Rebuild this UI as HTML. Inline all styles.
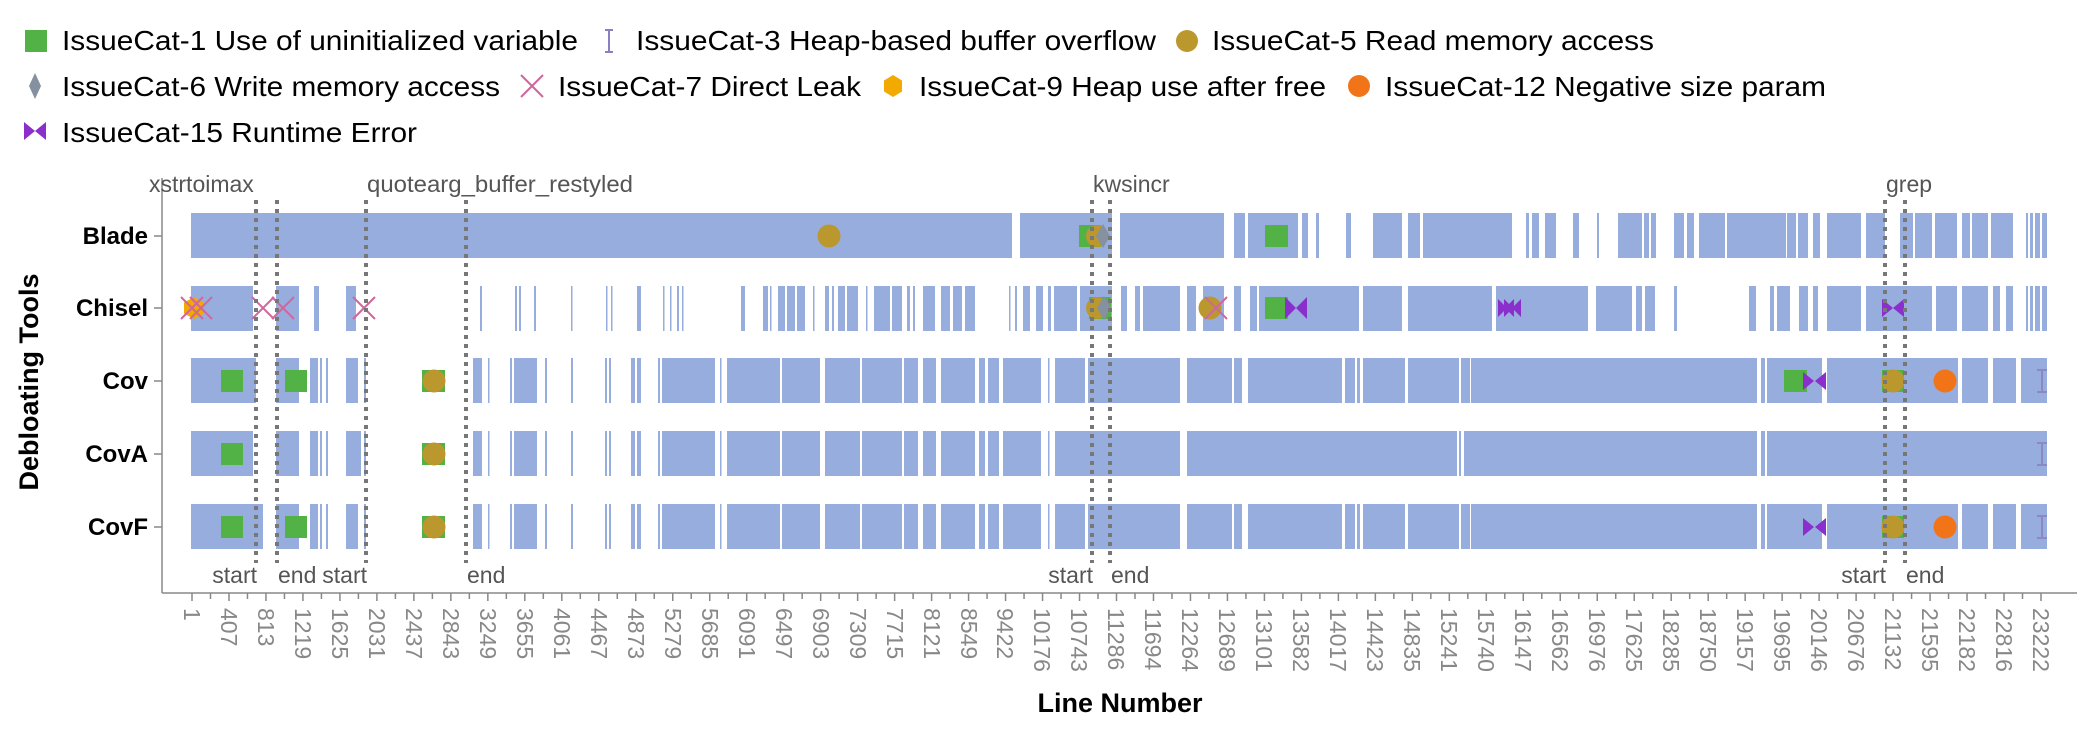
<!DOCTYPE html>
<html><head><meta charset="utf-8"><style>
html,body{margin:0;padding:0;background:#fff;}
svg{display:block;font-family:"Liberation Sans",Arial,sans-serif;}
</style></head><body>
<svg width="2100" height="750" viewBox="0 0 2100 750" xmlns="http://www.w3.org/2000/svg">
<!-- Legend -->
<g font-size="28" fill="#000">
<rect x="25" y="30" width="22" height="22" fill="#52b246"/>
<text x="62" y="50" textLength="516" lengthAdjust="spacingAndGlyphs">IssueCat-1 Use of uninitialized variable</text>
<g stroke="#8a7fc3" stroke-width="2"><line x1="609" y1="30" x2="609" y2="52"/><line x1="605" y1="30" x2="613" y2="30"/><line x1="605" y1="52" x2="613" y2="52"/></g>
<text x="636" y="50" textLength="520" lengthAdjust="spacingAndGlyphs">IssueCat-3 Heap-based buffer overflow</text>
<circle cx="1187" cy="41" r="11" fill="#bb982d"/>
<text x="1212" y="50" textLength="442" lengthAdjust="spacingAndGlyphs">IssueCat-5 Read memory access</text>

<polygon points="35,73 41,86 35,99 29,86" fill="#8590a0"/>
<text x="62" y="96" textLength="438" lengthAdjust="spacingAndGlyphs">IssueCat-6 Write memory access</text>
<g stroke="#d0679c" stroke-width="2"><line x1="521" y1="75" x2="543" y2="97"/><line x1="543" y1="75" x2="521" y2="97"/></g>
<text x="558" y="96" textLength="303" lengthAdjust="spacingAndGlyphs">IssueCat-7 Direct Leak</text>
<polygon points="893,75 902,80.5 902,91.5 893,97 884,91.5 884,80.5" fill="#f2a900"/>
<text x="919" y="96" textLength="407" lengthAdjust="spacingAndGlyphs">IssueCat-9 Heap use after free</text>
<circle cx="1359" cy="86" r="11" fill="#f17518"/>
<text x="1385" y="96" textLength="441" lengthAdjust="spacingAndGlyphs">IssueCat-12 Negative size param</text>

<polygon points="24,122 24,140 35,131" fill="#8a2fcb"/><polygon points="46,122 46,140 35,131" fill="#8a2fcb"/>
<text x="62" y="142" textLength="355" lengthAdjust="spacingAndGlyphs">IssueCat-15 Runtime Error</text>
</g>

<!-- Bars -->
<g fill="#97addd">
<path id="blade" d=""/>
<path id="chisel" d=""/>
<path id="cov" d=""/>
<path id="cova" d=""/>
<path id="covf" d=""/>
</g>
<g id="bars" fill="#97addd"></g>

<!-- Axes -->
<g stroke="#888" stroke-width="1.5" fill="none">
<line x1="162" y1="178" x2="162" y2="593"/>
<line x1="162" y1="593" x2="2077" y2="593"/>
<line x1="154" y1="236" x2="162" y2="236"/>
<line x1="154" y1="308" x2="162" y2="308"/>
<line x1="154" y1="381" x2="162" y2="381"/>
<line x1="154" y1="454" x2="162" y2="454"/>
<line x1="154" y1="527" x2="162" y2="527"/>
</g>
<g id="ticks" stroke="#888" stroke-width="1.5"></g>
<g font-size="24" font-weight="bold" fill="#000" text-anchor="end">
<text x="148" y="244">Blade</text>
<text x="148" y="316">Chisel</text>
<text x="148" y="389">Cov</text>
<text x="148" y="462">CovA</text>
<text x="148" y="535">CovF</text>
</g>
<text x="1120" y="712" font-size="27" font-weight="bold" text-anchor="middle">Line Number</text>
<text transform="translate(38,382) rotate(-90)" font-size="27" font-weight="bold" text-anchor="middle">Debloating Tools</text>

<g font-size="23" fill="#888" id="xlabels">
<text transform="translate(192,608) rotate(90)" dy="0.35em">1</text>
<text transform="translate(229,608) rotate(90)" dy="0.35em">407</text>
<text transform="translate(266,608) rotate(90)" dy="0.35em">813</text>
<text transform="translate(303,608) rotate(90)" dy="0.35em">1219</text>
<text transform="translate(340,608) rotate(90)" dy="0.35em">1625</text>
<text transform="translate(377,608) rotate(90)" dy="0.35em">2031</text>
<text transform="translate(414,608) rotate(90)" dy="0.35em">2437</text>
<text transform="translate(451,608) rotate(90)" dy="0.35em">2843</text>
<text transform="translate(488,608) rotate(90)" dy="0.35em">3249</text>
<text transform="translate(525,608) rotate(90)" dy="0.35em">3655</text>
<text transform="translate(562,608) rotate(90)" dy="0.35em">4061</text>
<text transform="translate(599,608) rotate(90)" dy="0.35em">4467</text>
<text transform="translate(636,608) rotate(90)" dy="0.35em">4873</text>
<text transform="translate(673,608) rotate(90)" dy="0.35em">5279</text>
<text transform="translate(710,608) rotate(90)" dy="0.35em">5685</text>
<text transform="translate(747,608) rotate(90)" dy="0.35em">6091</text>
<text transform="translate(784,608) rotate(90)" dy="0.35em">6497</text>
<text transform="translate(821,608) rotate(90)" dy="0.35em">6903</text>
<text transform="translate(858,608) rotate(90)" dy="0.35em">7309</text>
<text transform="translate(895,608) rotate(90)" dy="0.35em">7715</text>
<text transform="translate(932,608) rotate(90)" dy="0.35em">8121</text>
<text transform="translate(969,608) rotate(90)" dy="0.35em">8549</text>
<text transform="translate(1005,608) rotate(90)" dy="0.35em">9422</text>
<text transform="translate(1042,608) rotate(90)" dy="0.35em">10176</text>
<text transform="translate(1079,608) rotate(90)" dy="0.35em">10743</text>
<text transform="translate(1116,608) rotate(90)" dy="0.35em">11286</text>
<text transform="translate(1153,608) rotate(90)" dy="0.35em">11694</text>
<text transform="translate(1190,608) rotate(90)" dy="0.35em">12264</text>
<text transform="translate(1227,608) rotate(90)" dy="0.35em">12689</text>
<text transform="translate(1264,608) rotate(90)" dy="0.35em">13101</text>
<text transform="translate(1301,608) rotate(90)" dy="0.35em">13582</text>
<text transform="translate(1338,608) rotate(90)" dy="0.35em">14017</text>
<text transform="translate(1375,608) rotate(90)" dy="0.35em">14423</text>
<text transform="translate(1412,608) rotate(90)" dy="0.35em">14835</text>
<text transform="translate(1449,608) rotate(90)" dy="0.35em">15241</text>
<text transform="translate(1486,608) rotate(90)" dy="0.35em">15740</text>
<text transform="translate(1523,608) rotate(90)" dy="0.35em">16147</text>
<text transform="translate(1560,608) rotate(90)" dy="0.35em">16562</text>
<text transform="translate(1597,608) rotate(90)" dy="0.35em">16976</text>
<text transform="translate(1634,608) rotate(90)" dy="0.35em">17625</text>
<text transform="translate(1671,608) rotate(90)" dy="0.35em">18285</text>
<text transform="translate(1708,608) rotate(90)" dy="0.35em">18750</text>
<text transform="translate(1745,608) rotate(90)" dy="0.35em">19157</text>
<text transform="translate(1782,608) rotate(90)" dy="0.35em">19695</text>
<text transform="translate(1819,608) rotate(90)" dy="0.35em">20146</text>
<text transform="translate(1856,608) rotate(90)" dy="0.35em">20676</text>
<text transform="translate(1893,608) rotate(90)" dy="0.35em">21132</text>
<text transform="translate(1930,608) rotate(90)" dy="0.35em">21595</text>
<text transform="translate(1967,608) rotate(90)" dy="0.35em">22182</text>
<text transform="translate(2004,608) rotate(90)" dy="0.35em">22816</text>
<text transform="translate(2041,608) rotate(90)" dy="0.35em">23222</text>
</g>

<!-- Markers -->
<g id="markers">
<!-- green squares -->
<g fill="#52b246">
<rect x="1079" y="225" width="22" height="22"/>
<rect x="1265" y="225" width="23" height="22"/>
<rect x="1089" y="297" width="22" height="22"/>
<rect x="1265" y="297" width="23" height="22"/>
<rect x="221" y="370" width="22" height="22"/>
<rect x="285" y="370" width="22" height="22"/>
<rect x="422" y="370" width="23" height="22"/>
<rect x="1784" y="370" width="23" height="22"/>
<rect x="1882" y="370" width="22" height="22"/>
<rect x="221" y="443" width="22" height="22"/>
<rect x="422" y="443" width="23" height="22"/>
<rect x="221" y="516" width="22" height="22"/>
<rect x="285" y="516" width="22" height="22"/>
<rect x="422" y="516" width="23" height="22"/>
<rect x="1882" y="516" width="22" height="22"/>
</g>
<g fill="#bb982d">
<circle cx="829" cy="236" r="11.5"/>
<circle cx="1097" cy="236" r="11"/>
<circle cx="1097" cy="308" r="11"/>
<circle cx="1210" cy="308" r="11.5"/>
<circle cx="434" cy="381" r="11.5"/>
<circle cx="1893" cy="381" r="11.5"/>
<circle cx="434" cy="454" r="11.5"/>
<circle cx="434" cy="527" r="11.5"/>
<circle cx="1893" cy="527" r="11.5"/>
</g>
<g fill="#f17518">
<circle cx="1945" cy="381" r="11.5"/>
<circle cx="1945" cy="527" r="11.5"/>
</g>
<g fill="#8590a0">
<polygon points="1103,224 1110,236 1103,248 1096,236"/>
<polygon points="1104,296 1111,308 1104,320 1097,308"/>
</g>
<polygon points="194,297 204,302.5 204,313.5 194,319 184,313.5 184,302.5" fill="#f2a900"/>
<g stroke="#d0679c" stroke-width="2" fill="none">
<path d="M181,297 L203,319 M203,297 L181,319"/>
<path d="M190,297 L212,319 M212,297 L190,319"/>
<path d="M252,297 L274,319 M274,297 L252,319"/>
<path d="M272,297 L294,319 M294,297 L272,319"/>
<path d="M353,297 L375,319 M375,297 L353,319"/>
<path d="M1205,297 L1227,319 M1227,297 L1205,319"/>
</g>
<g fill="#8a2fcb">
<path d="M1285,297 L1296,308 L1285,319Z M1307,297 L1296,308 L1307,319Z"/>
<path d="M1498,299 L1507,308 L1498,317Z M1514,299 L1505,308 L1514,317Z"/>
<path d="M1504,299 L1513,308 L1504,317Z M1521,299 L1512,308 L1521,317Z"/>
<path d="M1882,299 L1893,308 L1882,317Z M1904,299 L1893,308 L1904,317Z"/>
<path d="M1803,372 L1814,381 L1803,390Z M1826,372 L1815,381 L1826,390Z"/>
<path d="M1803,518 L1814,527 L1803,536Z M1826,518 L1815,527 L1826,536Z"/>
</g>
<g stroke="#8a7fc3" stroke-width="2" opacity="0.8">
<path d="M2042,370 V392 M2037,370 H2047 M2037,392 H2047"/>
<path d="M2042,443 V465 M2037,443 H2047 M2037,465 H2047"/>
<path d="M2042,516 V538 M2037,516 H2047 M2037,538 H2047"/>
</g>
</g>

<!-- Dotted lines -->
<g stroke="#777" stroke-width="4" stroke-dasharray="4 5">
<line x1="256" y1="200" x2="256" y2="563"/>
<line x1="277" y1="200" x2="277" y2="563"/>
<line x1="366" y1="200" x2="366" y2="563"/>
<line x1="466" y1="200" x2="466" y2="563"/>
<line x1="1092" y1="200" x2="1092" y2="563"/>
<line x1="1110" y1="200" x2="1110" y2="563"/>
<line x1="1885" y1="200" x2="1885" y2="563"/>
<line x1="1905" y1="200" x2="1905" y2="563"/>
</g>
<g font-size="23" fill="#555">
<text x="149" y="192">xstrtoimax</text>
<text x="367" y="192" textLength="266" lengthAdjust="spacingAndGlyphs">quotearg_buffer_restyled</text>
<text x="1093" y="192">kwsincr</text>
<text x="1886" y="192">grep</text>
<text x="257" y="583" text-anchor="end">start</text>
<text x="278" y="583">end</text>
<text x="367" y="583" text-anchor="end">start</text>
<text x="467" y="583">end</text>
<text x="1093" y="583" text-anchor="end">start</text>
<text x="1111" y="583">end</text>
<text x="1886" y="583" text-anchor="end">start</text>
<text x="1906" y="583">end</text>
</g>
</svg>
<script>
(function(){
var rows={
blade:[213,[[191,1012],[1020,1112],[1120,1224],[1234,1245],[1248,1298],[1302,1308],[1316,1319],[1346,1351],[1373,1402],[1408,1420],[1423,1512],[1526,1529],[1532,1539],[1545,1556],[1573,1579],[1597,1599],[1618,1642],[1644,1649],[1651,1656],[1674,1684],[1687,1694],[1699,1725],[1727,1786],[1787,1796],[1798,1808],[1813,1820],[1827,1861],[1866,1885],[1900,1913],[1915,1932],[1935,1957],[1962,1970],[1972,1988],[1991,2013],[2026,2028],[2030,2033],[2035,2040],[2042,2047]]],
chisel:[286,[[191,253],[276,299],[314,319],[346,356],[480,482],[515,517],[519,521],[534,536],[571,572.5],[606,607.5],[611,612.5],[637,641],[663,664.5],[670,671.5],[677,679],[682,683.5],[741,745],[763,768],[770,771.5],[778,785],[787,795],[797,805],[813,814.5],[825,829],[832,834],[838,845],[847,858],[866,867.5],[874,890],[892,902],[907,910],[913,915],[923,935],[941,950],[953,962],[965,975],[1009,1010.5],[1015,1017],[1023,1030],[1036,1043],[1048,1051],[1054,1077],[1080,1112],[1121,1127],[1135,1140],[1143,1180],[1187,1196],[1203,1224],[1234,1241],[1250,1257],[1259,1359],[1363,1402],[1408,1492],[1496,1588],[1596,1632],[1636,1642],[1645,1655],[1674,1677],[1749,1756],[1770,1774],[1777,1790],[1799,1808],[1813,1818],[1827,1861],[1866,1932],[1936,1957],[1962,1988],[1993,2000],[2006,2013],[2026,2028],[2030,2033],[2035,2040],[2042,2047]]]
};
var covMid=[[473,482],[488,489.5],[510,512],[514,537],[545,547],[571,573],[605,607],[609,611],[631,635],[637,641],[658,660],[662,715],[720,721.5],[727,780],[782,820],[825,860],[862,902],[904,918],[923,936],[941,975],[979,985],[988,999],[1003,1041],[1048,1049.5]];
var covTail=[[1055,1085],[1088,1180],[1187,1232],[1234,1242],[1248,1342],[1345,1355],[1357,1360],[1363,1405],[1408,1459],[1461,1470],[1471,1757],[1761,1765],[1767,1822],[1827,1958],[1962,1988],[1993,2016],[2021,2047]];
rows.cov=[358,[[191,256],[276,299],[310,318],[320,322],[326,328],[346,358],[364,366]].concat(covMid,covTail)];
rows.cova=[431,[[191,253],[276,299],[310,318],[320,322],[326,328],[346,361],[364,366]].concat(covMid,[[1055,1180],[1187,1457],[1459,1461],[1464,1757],[1761,1765],[1767,2047]])];
rows.covf=[504,[[191,263],[276,299],[310,318],[320,322],[326,328],[346,358],[364,366]].concat(covMid,covTail)];
for(var k in rows){var t=rows[k][0],b=t+45,d='';rows[k][1].forEach(function(s){d+='M'+s[0]+' '+t+'H'+s[1]+'V'+b+'H'+s[0]+'Z';});document.getElementById(k).setAttribute('d',d);}
var tk=document.getElementById('ticks'),ns='http://www.w3.org/2000/svg';
for(var i=0;i<=100;i++){var x=192+i*36.98/2;if(x>2060)break;var l=document.createElementNS(ns,'line');l.setAttribute('x1',x);l.setAttribute('x2',x);l.setAttribute('y1',593);l.setAttribute('y2',i%2?599:601);tk.appendChild(l);}
})();
</script>
</body></html>
